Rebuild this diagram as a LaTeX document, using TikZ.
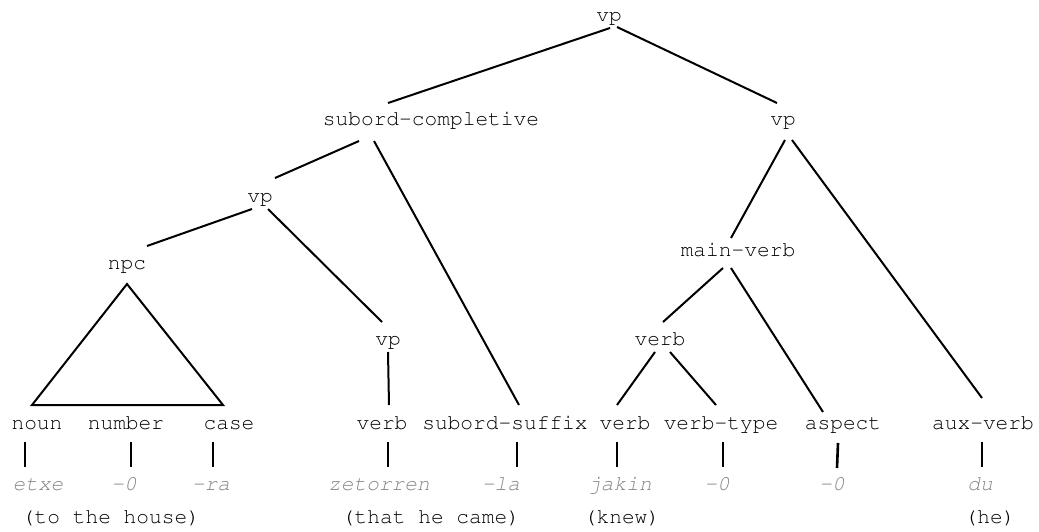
\documentclass[tikz,border=0pt]{standalone}
\usepackage[T1,TU]{fontenc}
\usepackage{xcolor}
\usetikzlibrary{calc}
\newcommand\treefont{\fontencoding{T1}\fontfamily{pcr}\fontsize{10.6}{12}\selectfont}
\definecolor{glossgray}{gray}{0.52}

\begin{document}
\begin{tikzpicture}[x=0.5pt, y=-0.5pt, line width=1pt,
    cat/.style={font=\treefont, inner sep=0pt, anchor=base},
    gloss/.style={font=\treefont\itshape, text=glossgray, inner sep=0pt, anchor=base},
    trans/.style={font=\treefont, inner sep=0pt, anchor=base},
    stem/.style={line width=1.3pt}]
    \useasboundingbox (0,0) rectangle (1039,531);

    % upper part of the tree
    \node[cat] (vpA) at (609,21) {vp};
    \node[cat] (subc) at (431,125) {subord-completive};
    \node[cat] (vpR) at (783,125) {vp};
    \node[cat] (vpL) at (260,202) {vp};
    \node[cat] (npc) at (127,269) {npc};
    \node[cat] (mainv) at (738,256) {main-verb};
    \node[cat] (vpM) at (388,345) {vp};
    \node[cat] (verbU) at (660,345) {verb};

    % leaves
    \node[cat] (noun) at (37,429) {noun};
    \node[cat] (number) at (126,429) {number};
    \node[cat] (case) at (229,429) {case};
    \node[cat] (verbL) at (382,429) {verb};
    \node[cat] (suffix) at (505,429) {subord-suffix};
    \node[cat] (verbB) at (625,429) {verb};
    \node[cat] (vtype) at (721,429) {verb-type};
    \node[cat] (aspect) at (843,429) {aspect};
    \node[cat] (aux) at (983,429) {aux-verb};

    % basque words
    \node[gloss] (etxe) at (38,490) {etxe};
    \node[gloss] (zeroA) at (124,490) {-0};
    \node[gloss] (ra) at (211,490) {-ra};
    \node[gloss] (zetorren) at (379,490) {zetorren};
    \node[gloss] (la) at (501,490) {-la};
    \node[gloss] (jakin) at (620,490) {jakin};
    \node[gloss] (zeroB) at (717,490) {-0};
    \node[gloss] (zeroC) at (832,490) {-0};
    \node[gloss] (du) at (980,490) {du};

    % translations
    \node[trans] (house) at (111,523) {(to the house)};
    \node[trans] (came) at (431,523) {(that he came)};
    \node[trans] (knew) at (622,523) {(knew)};
    \node[trans] (he) at (990,523) {(he)};

    \draw ($(vpA.base)+(1,7)$) -- ($(subc.base)+(-43,-22)$);
    \draw ($(vpA.base)+(8,6)$) -- ($(vpR.base)+(-6,-22)$);
    \draw ($(subc.base)+(-72,16)$) -- ($(vpL.base)+(15,-24)$);
    \draw ($(subc.base)+(-57,16)$) -- ($(suffix.base)+(14,-24)$);
    \draw ($(vpL.base)+(-8,7)$) -- ($(npc.base)+(20,-23)$);
    \draw ($(vpL.base)+(8,7)$) -- ($(vpM.base)+(-6,-23)$);
    \draw ($(npc.base)+(0,15)$) -- ($(noun.base)+(-5,-24)$) -- ($(case.base)+(-6,-24)$) -- cycle;
    \draw ($(vpM.base)+(0,7)$) -- ($(verbL.base)+(7,-24)$);
    \draw ($(vpR.base)+(2,15)$) -- ($(mainv.base)+(-7,-18)$);
    \draw ($(vpR.base)+(9,15)$) -- ($(aux.base)+(-1,-31)$);
    \draw ($(mainv.base)+(-15,12)$) -- ($(verbU.base)+(3,-23)$);
    \draw ($(mainv.base)+(-7,12)$) -- ($(aspect.base)+(-20,-17)$);
    \draw ($(verbU.base)+(-5,7)$) -- ($(verbB.base)+(-8,-24)$);
    \draw ($(verbU.base)+(10,7)$) -- ($(vtype.base)+(-5,-24)$);

    % leaves to words
    \draw[stem] ($(noun.base)+(-12,13)$) -- ($(etxe.base)+(-13,-23)$);
    \draw[stem] ($(number.base)+(5,13)$) -- ($(zeroA.base)+(7,-23)$);
    \draw[stem] ($(case.base)+(-16,13)$) -- ($(ra.base)+(2,-23)$);
    \draw[stem] ($(verbL.base)+(6,13)$) -- ($(zetorren.base)+(9,-23)$);
    \draw[stem] ($(suffix.base)+(12,13)$) -- ($(la.base)+(16,-23)$);
    \draw[stem] ($(verbB.base)+(-8,13)$) -- ($(jakin.base)+(-3,-23)$);
    \draw[stem] ($(vtype.base)+(2,13)$) -- ($(zeroB.base)+(6,-23)$);
    \draw[stem] ($(aspect.base)+(-5,14)$) -- ($(zeroC.base)+(5,-22)$);
    \draw[stem] ($(aux.base)+(-1,13)$) -- ($(du.base)+(2,-23)$);
\end{tikzpicture}
\end{document}
